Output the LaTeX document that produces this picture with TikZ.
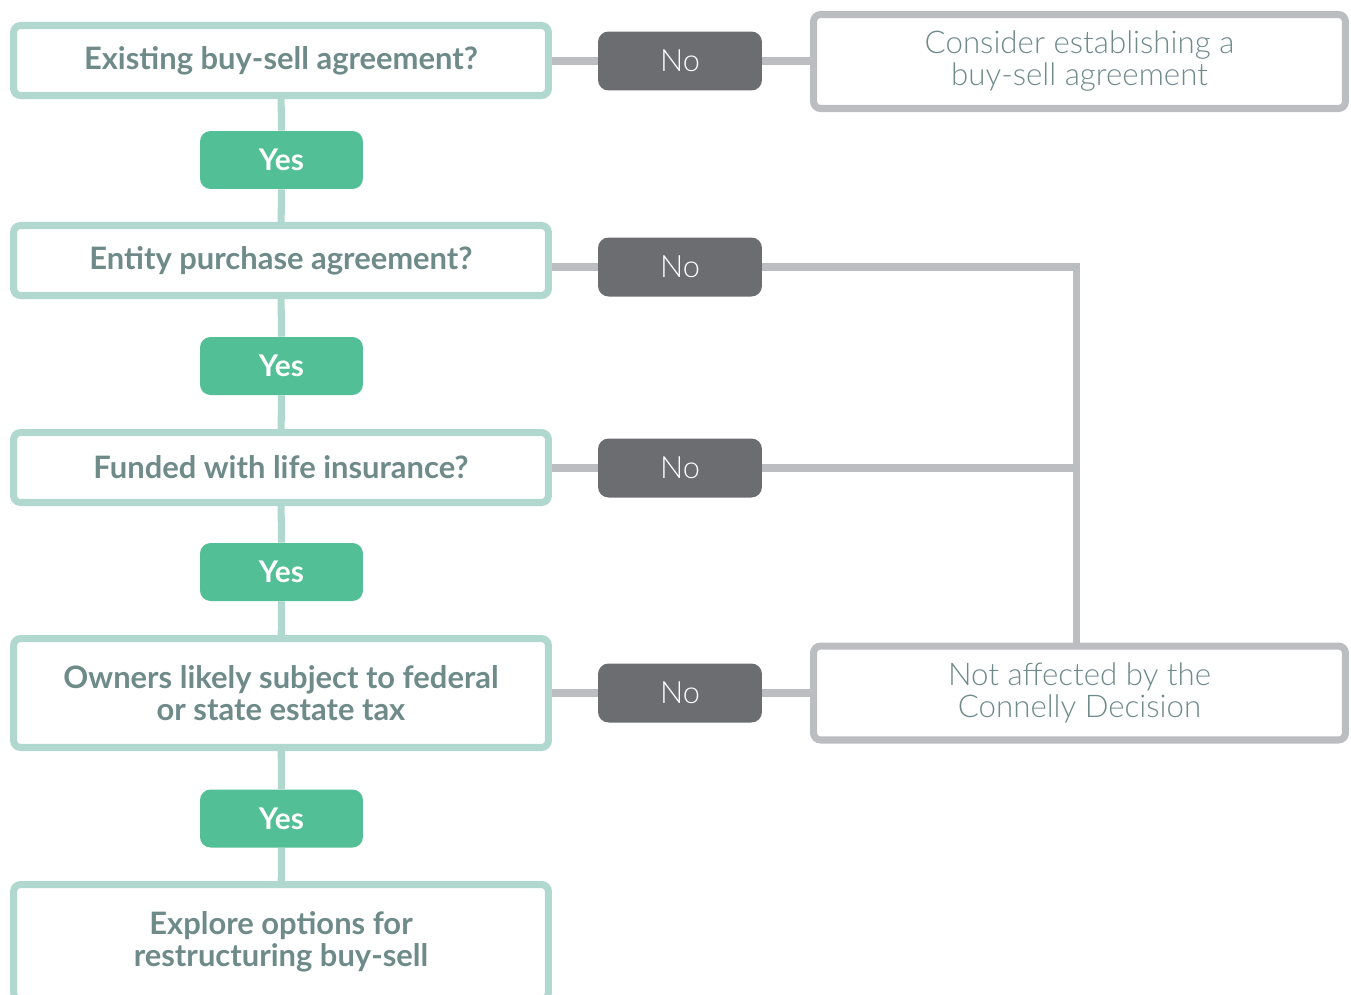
\documentclass[tikz,border=0pt]{standalone}
\usepackage{fontspec}
\setmainfont{Lato}
\newfontfamily\lightfont{Lato Light}
\usetikzlibrary{positioning, backgrounds}
\definecolor{askedge}{HTML}{B0D8CF}
\definecolor{asktext}{HTML}{6E8B8A}
\definecolor{yesgreen}{HTML}{52BF97}
\definecolor{nogray}{HTML}{6C6D71}
\definecolor{linegray}{HTML}{BCBDC0}

\begin{document}
\begin{tikzpicture}[x=0.02cm, y=-0.02cm,
    ask/.style={draw=askedge, line width=4pt, rounded corners=4pt, fill=white,
        minimum width=10.7cm, minimum height=1.4cm, align=center, text=asktext,
        font=\fontsize{17.6}{18.2}\selectfont\bfseries},
    yesbox/.style={fill=yesgreen, rounded corners=6pt, minimum width=3.26cm,
        minimum height=1.16cm, text=white, font=\fontsize{17}{18}\selectfont\bfseries},
    nobox/.style={fill=nogray, rounded corners=6pt, minimum width=3.28cm,
        minimum height=1.18cm, text=white, font=\lightfont\fontsize{17.5}{18}\selectfont},
    result/.style={draw=linegray, line width=4pt, rounded corners=4pt, fill=white,
        minimum width=10.64cm, minimum height=1.88cm, align=center, text=asktext,
        font=\lightfont\fontsize{17.8}{18.2}\selectfont},
    link/.style={line width=4pt}]
\useasboundingbox (0,0) rectangle (1351,994);

% Questions
\node[ask] (q1) at (281,60.5) {Existing buy-sell agreement?};
\node[ask] (q2) at (281,260.5) {Entity purchase agreement?};
\node[ask] (q3) at (281,467.5) {Funded with life insurance?};
\node[ask, minimum height=2.18cm] (q4) at (281,693) {Owners likely subject to federal\\or state estate tax};
\node[ask, minimum height=2.3cm] (q5) at (281,942) {Explore options for\\restructuring buy-sell};

% Yes answers
\node[yesbox] (y1) at (281.5,160) {Yes};
\node[yesbox] (y2) at (281.5,366) {Yes};
\node[yesbox] (y3) at (281.5,572) {Yes};
\node[yesbox] (y4) at (281.5,818.5) {Yes};

% No answers
\node[nobox] (n1) at (680,61) {No};
\node[nobox] (n2) at (680,267) {No};
\node[nobox] (n3) at (680,468) {No};
\node[nobox] (n4) at (680,693) {No};

% Outcomes
\node[result] (r1) at (1079.5,61.5) {Consider establishing a\\buy-sell agreement};
\node[result] (r2) at (1079.5,693) {Not affected by the\\Connelly Decision};
\coordinate (join) at (1076,267);

% Connectors
\begin{scope}[on background layer]
\draw[link, askedge] (q1) -- (y1) -- (q2) -- (y2) -- (q3) -- (y3) -- (q4) -- (y4) -- (q5);
\draw[link, linegray] (n1 -| q1.east) -- (n1) -- (r1.west |- n1);
\draw[link, linegray] (n2 -| q2.east) -- (n2) -- (join) -- (join |- r2.north);
\draw[link, linegray] (n3 -| q3.east) -- (n3) -- (n3 -| join);
\draw[link, linegray] (n4 -| q4.east) -- (n4) -- (r2.west);
\end{scope}
\end{tikzpicture}
\end{document}
